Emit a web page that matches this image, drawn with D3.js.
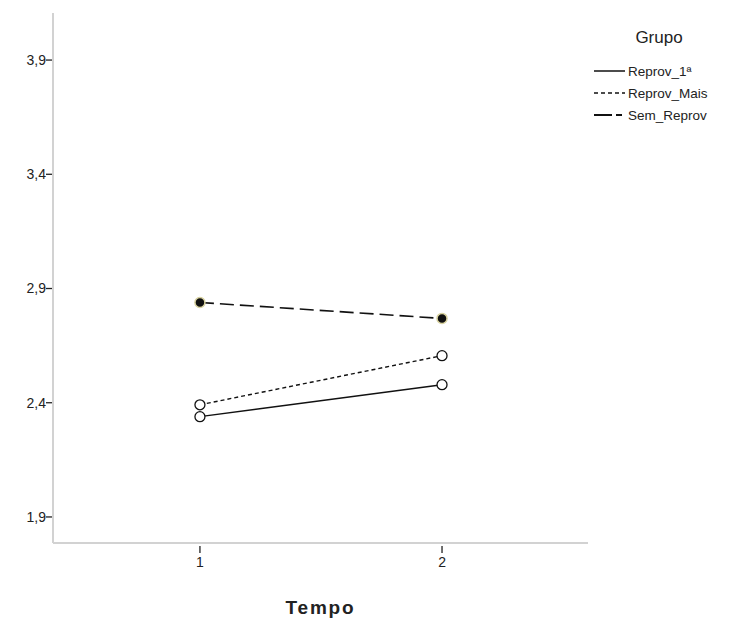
<!DOCTYPE html>
<html>
<head>
<meta charset="utf-8">
<script src="https://cdn.jsdelivr.net/npm/d3@7"></script>
<style>
  body { margin: 0; background: #fff; }
  text { font-family: Arial, "Liberation Sans", sans-serif; fill: #222; }
</style>
</head>
<body>
<div id="chart"></div>
<script>
var tempos = [1, 2];
var grupos = ["Reprov_1ª", "Reprov_Mais", "Sem_Reprov"];
var reprov1 = [2.339, 2.479];
var reprovMais = [2.391, 2.606];
var semReprov = [2.839, 2.769];
var yTicks = [1.9, 2.4, 2.9, 3.4, 3.9];

var series = [
  {name: grupos[0], values: reprov1, dash: null, filled: false},
  {name: grupos[1], values: reprovMais, dash: "4,3", filled: false},
  {name: grupos[2], values: semReprov, dash: "14,6", filled: true}
];

var W = 737, H = 619;
var margin = {top: 13, left: 53, bottom: 543, right: 588};

var svg = d3.select("#chart").append("svg")
    .attr("width", W)
    .attr("height", H);

var x = d3.scaleLinear().domain([0.393, 2.603]).range([margin.left, margin.right]);
var y = d3.scaleLinear().domain([1.786, 4.106]).range([margin.bottom, margin.top]);

// axis lines
svg.append("line")
    .attr("x1", margin.left).attr("x2", margin.left)
    .attr("y1", margin.top).attr("y2", margin.bottom)
    .attr("stroke", "#d2d2d2").attr("stroke-width", 2);
svg.append("line")
    .attr("x1", margin.left).attr("x2", margin.right)
    .attr("y1", margin.bottom).attr("y2", margin.bottom)
    .attr("stroke", "#d2d2d2").attr("stroke-width", 2);

// y ticks
var fmt = function(d) { return d3.format(".1f")(d).replace(".", ","); };
var yt = svg.append("g").selectAll("g")
    .data(yTicks)
  .enter().append("g")
    .attr("transform", function(d) { return "translate(0," + y(d) + ")"; });
yt.append("line")
    .attr("x1", margin.left - 7).attr("x2", margin.left - 1)
    .attr("stroke", "#222").attr("stroke-width", 1.3);
yt.append("text")
    .attr("x", margin.left - 7)
    .attr("dy", "0.35em")
    .attr("text-anchor", "end")
    .attr("font-size", 14)
    .text(fmt);

// x ticks
var xt = svg.append("g").selectAll("g")
    .data(tempos)
  .enter().append("g")
    .attr("transform", function(d) { return "translate(" + x(d) + ",0)"; });
xt.append("line")
    .attr("y1", margin.bottom + 3).attr("y2", margin.bottom + 10)
    .attr("stroke", "#222").attr("stroke-width", 1.3);
xt.append("text")
    .attr("y", margin.bottom + 24)
    .attr("text-anchor", "middle")
    .attr("font-size", 14)
    .text(function(d) { return d; });

svg.append("text")
    .attr("x", (margin.left + margin.right) / 2)
    .attr("y", 614)
    .attr("text-anchor", "middle")
    .attr("font-size", 19)
    .attr("font-weight", "bold")
    .attr("letter-spacing", 1.8)
    .text("Tempo");

// lines
var line = d3.line()
    .x(function(d, i) { return x(tempos[i]); })
    .y(function(d) { return y(d); });

series.forEach(function(s) {
  svg.append("path")
      .datum(s.values)
      .attr("d", line)
      .attr("fill", "none")
      .attr("stroke", "#111")
      .attr("stroke-width", s.filled ? 1.6 : 1.4)
      .attr("stroke-dasharray", s.dash);

  svg.selectAll(null)
      .data(s.values)
    .enter().append("circle")
      .attr("cx", function(d, i) { return x(tempos[i]); })
      .attr("cy", function(d) { return y(d); })
      .attr("r", 5)
      .attr("fill", s.filled ? "#111" : "#fff")
      .attr("stroke", s.filled ? "#d8d2a0" : "#111")
      .attr("stroke-width", s.filled ? 1.5 : 1.3);
});

// legend
svg.append("text")
    .attr("x", 659)
    .attr("y", 43)
    .attr("text-anchor", "middle")
    .attr("font-size", 17)
    .text("Grupo");

var lg = svg.append("g").selectAll("g")
    .data(series)
  .enter().append("g")
    .attr("transform", function(d, i) { return "translate(594," + (71 + i * 22) + ")"; });
lg.append("line")
    .attr("x1", 0).attr("x2", 31)
    .attr("stroke", "#111")
    .attr("stroke-width", function(d) { return d.filled ? 2 : 1.5; })
    .attr("stroke-dasharray", function(d) { return d.filled ? "18,4,6,3" : d.dash; });
lg.append("text")
    .attr("x", 34)
    .attr("dy", "0.35em")
    .attr("font-size", 13.5)
    .text(function(d) { return d.name; });
</script>
</body>
</html>
